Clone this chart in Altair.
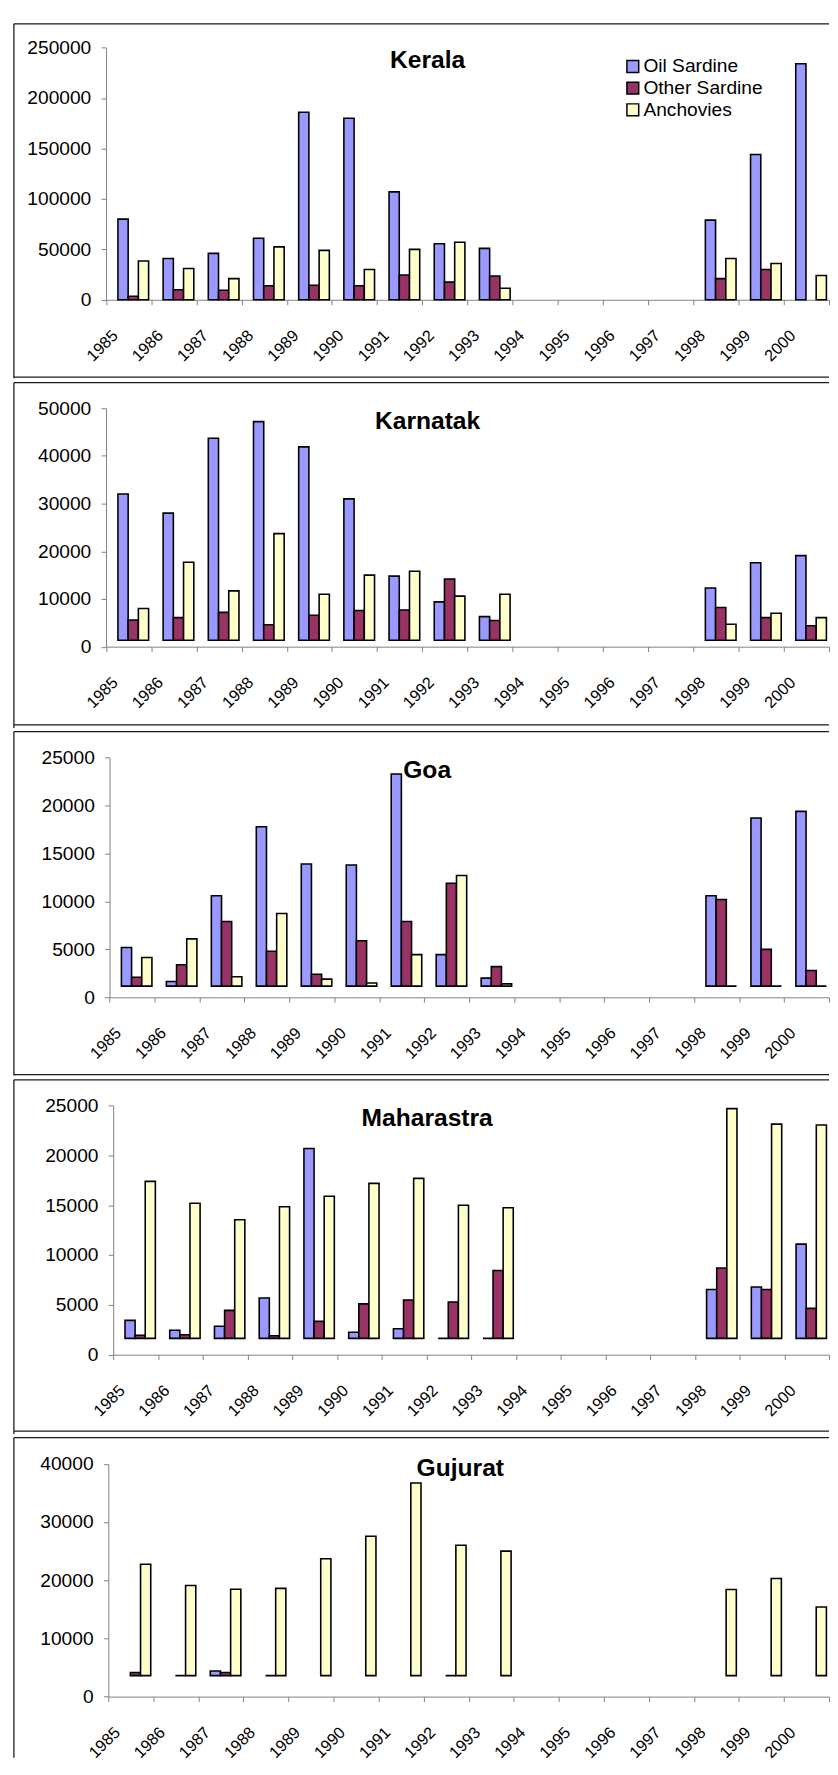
import altair as alt
import pandas as pd

years = [str(y) for y in range(1985, 2001)]
species = ["Oil Sardine", "Other Sardine", "Anchovies"]
colors = ["#9999FF", "#993366", "#FFFFCC"]
states = ["Kerala", "Karnatak", "Goa", "Maharastra", "Gujurat"]
N = None

# values (bar tops on each panel's axis)
kerala_oil = [80000, 41000, 46000, 61000, 186000, 180000, 107000, 55500, 51000, N, N, N, N, 79000, 144000, 234000]
kerala_other = [3500, 10000, 9500, 14000, 14500, 14000, 24500, 17500, 23500, N, N, N, N, 21000, 30000, N]
kerala_anch = [38500, 31000, 21000, 52500, 49000, 30000, 50000, 57000, 11500, N, N, N, N, 41000, 36000, 24000]

karnatak_oil = [32000, 28000, 43700, 47200, 41900, 31000, 14800, 9400, 6300, N, N, N, N, 12300, 17600, 19100]
karnatak_other = [5600, 6100, 7200, 4600, 6600, 7600, 7700, 14200, 5500, N, N, N, N, 8200, 6100, 4400]
karnatak_anch = [8000, 17700, 11700, 23700, 11000, 15000, 15800, 10600, 11000, N, N, N, N, 4700, 7000, 6100]

goa_oil = [5200, 1650, 10600, 17800, 13900, 13800, 23300, 4450, 2000, N, N, N, N, 10600, 18700, 19400]
goa_other = [2100, 3400, 7900, 4800, 2400, 5900, 7900, 11900, 3200, N, N, N, N, 10200, 5000, 2800]
goa_anch = [4150, 6100, 2150, 8750, 1900, 1500, 4450, 12700, 1400, N, N, N, N, 1170, 1170, 1170]

maha_oil = [3450, 2450, 2850, 5700, 20700, 2250, 2600, 1640, 1640, N, N, N, N, 6550, 6800, 11100]
maha_other = [1950, 2000, 4450, 1900, 3350, 5100, 5500, 5300, 8450, N, N, N, N, 8700, 6550, 4650]
maha_anch = [17400, 15200, 13550, 14850, 15900, 17200, 17700, 15000, 14750, N, N, N, N, 24700, 23150, 23050]

guj_oil = [N, N, 4400, N, N, N, N, N, N, N, N, N, N, N, N, N]
guj_other = [4150, 3600, 4150, 3600, N, N, N, 3600, N, N, N, N, N, N, N, N]
guj_anch = [22750, 19100, 18450, 18600, 23700, 27550, 36700, 26000, 25000, N, N, N, N, 18400, 20300, 15400]

series = [
    (kerala_oil, kerala_other, kerala_anch),
    (karnatak_oil, karnatak_other, karnatak_anch),
    (goa_oil, goa_other, goa_anch),
    (maha_oil, maha_other, maha_anch),
    (guj_oil, guj_other, guj_anch),
]
baselines = [0, 1340, 1170, 1640, 3600]
y_max = [250000, 50000, 25000, 25000, 40000]
y_step = [50000, 10000, 5000, 5000, 10000]

# layout (pixels, view coordinates of each panel)
W = 829
panel_h = [360.6, 351.3, 349.7, 360.3, 325.5]
frame_bottom = [359.3, 348.0, 348.7, 357.3, None]
x_range = [(93.7, 829), (93.7, 829), (97.3, 829), (101, 829), (96, 829)]
y_range = [(280.7, 24.3), (268.5, 26), (270.1, 26.4), (279.6, 26.3), (263.3, 26.6)]
title_pos = [(420.7, 45.3), (420.7, 47), (420.3, 47.4), (420.3, 47.3), (454, 39.3)]
FONT = "Liberation Sans"
FRAME = "#1a1a1a"

one = pd.DataFrame({"a": [0]})


def frame(H, bottom):
    parts = [
        alt.Chart(one).mark_rule(color=FRAME, strokeWidth=1.3).encode(
            x=alt.value(0), x2=alt.value(W), y=alt.value(0)),
        alt.Chart(one).mark_rule(color=FRAME, strokeWidth=1.3).encode(
            x=alt.value(0), y=alt.value(0), y2=alt.value(H)),
    ]
    if bottom is not None:
        parts.append(alt.Chart(one).mark_rule(color=FRAME, strokeWidth=1.3).encode(
            x=alt.value(0), x2=alt.value(W), y=alt.value(bottom)))
    return parts


def panel(i):
    rows = []
    for s, vals in zip(species, series[i]):
        for y, v in zip(years, vals):
            if v is not None:
                rows.append({"year": y, "species": s, "value": v})
    df = pd.DataFrame(rows)
    x0, x1 = x_range[i]
    yb, yt = y_range[i]
    H = panel_h[i]
    if i == 0:
        legend = alt.Legend(
            title=None, orient="none", legendX=619.7, legendY=33.7,
            symbolType="square", symbolSize=144, symbolStrokeColor="black",
            symbolStrokeWidth=1.5, symbolOpacity=1, labelFont=FONT, labelFontSize=19.5,
            labelColor="black", labelOffset=1, rowPadding=1, padding=0,
        )
    else:
        legend = None
    bars = alt.Chart(df).mark_bar(stroke="black", strokeWidth=1.6).encode(
        x=alt.X(
            "year:N", sort=years,
            scale=alt.Scale(domain=years, range=[x0, x1], paddingInner=0, paddingOuter=0),
            axis=alt.Axis(
                title=None, labelAngle=-45, labelAlign="right", labelBaseline="middle",
                labelOffset=-14, labelPadding=28.5, tickBand="extent", tickSize=5,
                tickColor="#808080", domainColor="#808080", labelFont=FONT,
                labelFontSize=16.5, labelColor="black", labelOverlap=False,
                offset=yb - H, minExtent=0, grid=False,
            ),
        ),
        xOffset=alt.XOffset(
            "species:N",
            scale=alt.Scale(domain=species, paddingInner=0, paddingOuter=0.71, align=0.82),
        ),
        y=alt.Y(
            "value:Q",
            scale=alt.Scale(domain=[0, y_max[i]], range=[yb, yt], nice=False, zero=True),
            axis=alt.Axis(
                title=None, values=list(range(0, y_max[i] + 1, y_step[i])), format="d",
                offset=-x0, tickSize=5, labelPadding=10.5, labelFontSize=19.5,
                labelFont=FONT, labelColor="black", domainColor="#808080",
                tickColor="#808080", grid=False, minExtent=0,
            ),
        ),
        y2=alt.datum(baselines[i]),
        fill=alt.Fill("species:N", scale=alt.Scale(domain=species, range=colors), legend=legend),
    )
    tx, ty = title_pos[i]
    title = alt.Chart(pd.DataFrame({"t": [states[i]]})).mark_text(
        font=FONT, fontSize=25, fontWeight="bold", align="center", baseline="alphabetic",
        color="black",
    ).encode(text="t:N", x=alt.value(tx), y=alt.value(ty))
    return alt.layer(bars, title, *frame(H, frame_bottom[i])).properties(width=W, height=H)


chart = (
    alt.vconcat(*[panel(i) for i in range(5)], spacing=2)
    .resolve_scale(fill="independent", x="independent", y="independent", xOffset="independent")
    .resolve_legend(fill="independent")
    .properties(padding=0, background="white")
    .configure_view(stroke=None)
)

chart.save("out.html", embed_options={"renderer": "svg", "actions": False})
